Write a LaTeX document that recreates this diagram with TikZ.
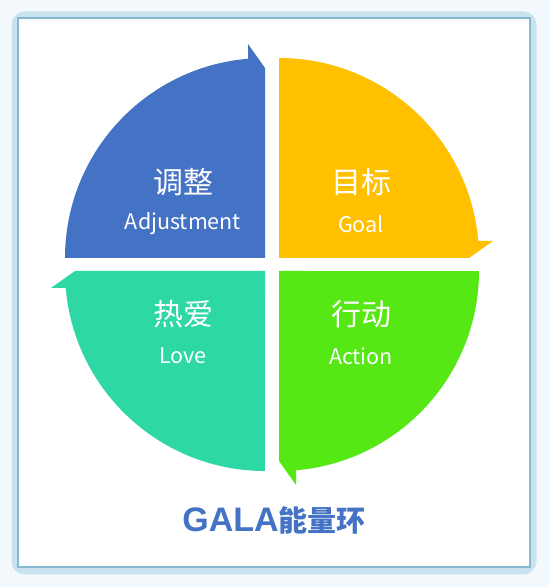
\documentclass[tikz,border=0pt]{standalone}
\usepackage{fontspec}
\setmainfont{Liberation Sans}
\newfontfamily\cjk{Noto Sans CJK SC}
\definecolor{bgc}{HTML}{F2F8FB}
\definecolor{glowc}{HTML}{C9E2EF}
\definecolor{edgec}{HTML}{86B8D2}
\definecolor{qblue}{HTML}{4472C4}
\definecolor{qyellow}{HTML}{FFC000}
\definecolor{qgreen}{HTML}{55E815}
\definecolor{qteal}{HTML}{2DD8A5}
\tikzset{
  zh/.style={text=white, inner sep=0pt, font=\cjk\fontsize{30}{32}\selectfont},
  en/.style={text=white, inner sep=0pt, font=\cjk\fontsize{21.5}{24}\selectfont},
}
\begin{document}
\begin{tikzpicture}[x=1pt,y=1pt]
\useasboundingbox (0,0) rectangle (549,587);
\fill[bgc] (0,0) rectangle (549,587);
\draw[glowc, line width=11, rounded corners=8] (17,18) rectangle (531,570);
\draw[edgec, line width=2, fill=white] (18,20) rectangle (530,569);
% quadrants
\begin{scope}[shift={(265,329)}]
\fill[qblue] (0,0) -- (0,190) -- (-17,214) -- (-17,199.28) arc[start angle=94.88, end angle=180, radius=200] -- cycle;
\end{scope}
\begin{scope}[shift={(279,329)}, rotate=-90]
\fill[qyellow] (0,0) -- (0,190) -- (-17,214) -- (-17,199.28) arc[start angle=94.88, end angle=180, radius=200] -- cycle;
\end{scope}
\begin{scope}[shift={(279,316)}, rotate=180]
\fill[qgreen] (0,0) -- (0,190) -- (-17,214) -- (-17,199.28) arc[start angle=94.88, end angle=180, radius=200] -- cycle;
\end{scope}
\begin{scope}[shift={(265,316)}, rotate=90]
\fill[qteal] (0,0) -- (0,190) -- (-17,214) -- (-17,199.28) arc[start angle=94.88, end angle=180, radius=200] -- cycle;
\end{scope}
% labels
\node[zh] (adjzh) at (183,405) {调整};
\node[en] (adjen) at (183,363) {Adjustment};
\node[zh] (goalzh) at (361,405) {目标};
\node[en] (goalen) at (361,363) {Goal};
\node[zh] (lovezh) at (183,273) {热爱};
\node[en] (loveen) at (183,231) {Love};
\node[zh] (actzh) at (361,273) {行动};
\node[en] (acten) at (361,231) {Action};
% title
\node[inner sep=0pt, text=qblue] (title) at (274,67) {\fontsize{34}{36}\selectfont\bfseries GALA{\cjk\bfseries\fontsize{29}{31}\selectfont 能量环}};
\end{tikzpicture}
\end{document}
